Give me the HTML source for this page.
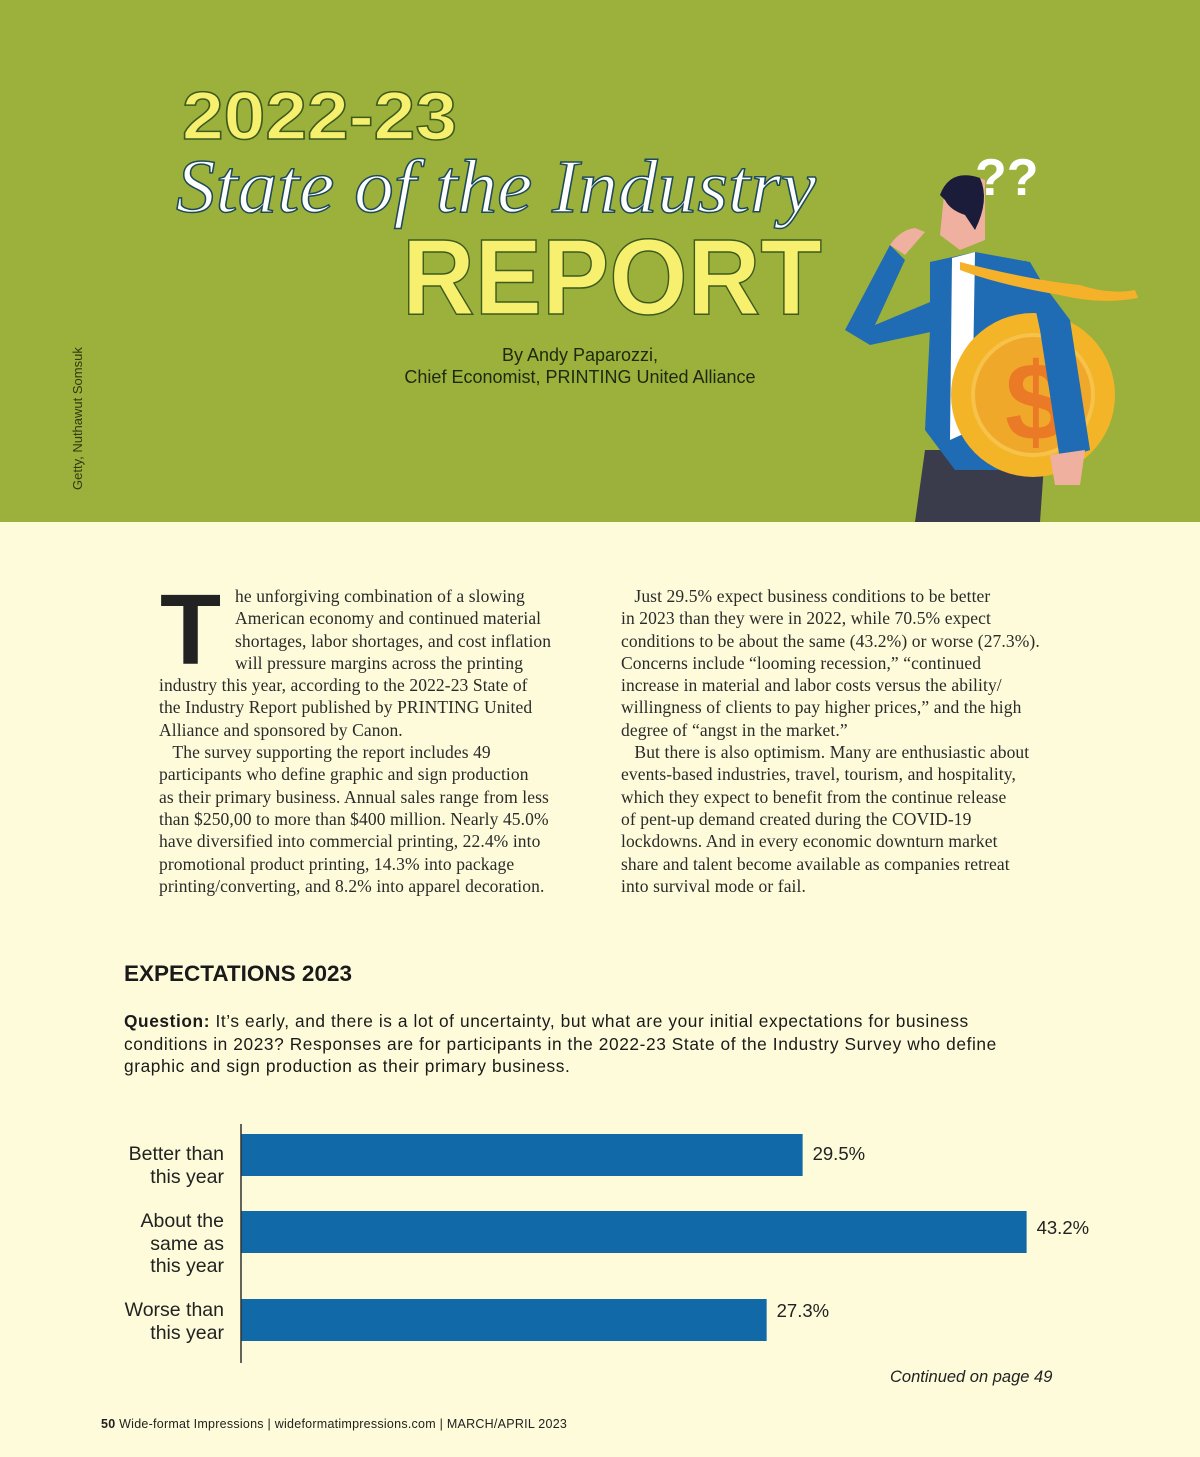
<!DOCTYPE html>
<html><head><meta charset="utf-8"><style>
*{margin:0;padding:0;box-sizing:border-box}
body{width:1200px;height:1457px;background:#fdfbd9;position:relative;overflow:hidden;font-family:"Liberation Sans",sans-serif;color:#222}
.abs{position:absolute}
#hero{left:0;top:0;width:1200px;height:522px;background:#9cb03c}
.col{font-family:"Liberation Serif",serif;font-size:17.5px;line-height:22.3px;letter-spacing:0.1px;color:#2a2a2a;white-space:nowrap}
.lbl{font-size:19.5px;line-height:22.5px;text-align:right;color:#222;width:130px}
.val{font-size:18.5px;color:#222}
</style></head><body>
<div id="hero" class="abs">
<svg width="1200" height="522" class="abs" style="left:0;top:0">
 <text x="182" y="139" font-family="Liberation Sans" font-weight="bold" font-size="68" fill="#f7f06e" stroke="#3d5a1f" stroke-width="1.5" textLength="275" lengthAdjust="spacingAndGlyphs">2022-23</text>
 <text x="176" y="212" font-family="Liberation Serif" font-style="italic" font-size="76" fill="#ffffff" stroke="#1d4a5a" stroke-width="1.5" textLength="640" lengthAdjust="spacingAndGlyphs">State of the Industry</text>
 <text x="402" y="314" font-family="Liberation Sans" font-weight="bold" font-size="108" fill="#f7f06e" stroke="#3d5a1f" stroke-width="1.5" textLength="420" lengthAdjust="spacingAndGlyphs">REPORT</text>
 <text x="82" y="490" transform="rotate(-90 82 490)" font-size="13" fill="#2e3a10">Getty,  Nuthawut Somsuk</text>
 <g>
  <text x="975" y="195" font-size="52" font-weight="bold" fill="#fff">??</text>
  <path d="M915 522 L925 450 L1045 450 L1040 522 Z" fill="#3a3c4c"/>
  <path d="M930 262 L975 252 L1030 262 L1070 330 L1088 450 L1060 465 L1040 470 L955 470 L925 430 L930 330 Z" fill="#1f6cb4"/>
  <path d="M845 330 L890 245 L905 260 L875 325 L935 300 L940 330 L870 345 Z" fill="#1f6cb4"/>
  <path d="M952 258 L975 252 L972 430 L950 440 Z" fill="#fff"/>
  <circle cx="1033" cy="395" r="82" fill="#f3b428"/>
  <circle cx="1033" cy="395" r="60" fill="#f0a82a" stroke="#f6c24a" stroke-width="4"/>
  <text x="1005" y="440" font-size="110" font-weight="bold" fill="#ea7a26">$</text>
  <path d="M1025 260 L1070 320 L1090 450 L1060 460 L1040 330 Z" fill="#1f6cb4"/>
  <path d="M1050 455 L1085 450 L1080 485 L1055 485 Z" fill="#f0b0a0"/>
  <path d="M960 262 Q1030 280 1080 285 Q1110 295 1135 290 L1138 298 Q1100 305 1060 295 Q1000 285 960 270 Z" fill="#f5b12a"/>
  <path d="M945 185 Q960 170 985 180 L985 240 L960 250 L940 235 Z" fill="#f0b0a0"/>
  <path d="M940 195 Q950 168 980 178 Q990 200 975 230 L965 215 Q950 210 945 200 Z" fill="#1a1c3a"/>
  <path d="M890 245 Q900 230 915 228 L925 232 L905 255 Z" fill="#f0b0a0"/>
 </g>
</svg>
<div class="abs" style="left:370px;top:345px;width:420px;text-align:center;font-size:18px;line-height:21.5px;color:#1e2a10">By Andy Paparozzi,<br>Chief Economist, PRINTING United Alliance</div>
</div>

<div class="abs" style="left:160px;top:588px;font-family:'Liberation Sans';font-weight:bold;font-size:100px;line-height:84px;color:#222">T</div>
<div class="abs col" style="left:159px;top:585px">
<div style="padding-left:76px">he unforgiving combination of a slowing</div>
<div style="padding-left:76px">American economy and continued material</div>
<div style="padding-left:76px">shortages, labor shortages, and cost inflation</div>
<div style="padding-left:76px">will pressure margins across the printing</div>
<div>industry this year, according to the 2022-23 State of</div>
<div>the Industry Report published by PRINTING United</div>
<div>Alliance and sponsored by Canon.</div>
<div>&nbsp;&nbsp;&nbsp;The survey supporting the report includes 49</div>
<div>participants who define graphic and sign production</div>
<div>as their primary business. Annual sales range from less</div>
<div>than $250,00 to more than $400 million. Nearly 45.0%</div>
<div>have diversified into commercial printing, 22.4% into</div>
<div>promotional product printing, 14.3% into package</div>
<div>printing/converting, and 8.2% into apparel decoration.</div>
</div>
<div class="abs col" style="left:621px;top:585px">
<div>&nbsp;&nbsp;&nbsp;Just 29.5% expect business conditions to be better</div>
<div>in 2023 than they were in 2022, while 70.5% expect</div>
<div>conditions to be about the same (43.2%) or worse (27.3%).</div>
<div>Concerns include “looming recession,” “continued</div>
<div>increase in material and labor costs versus the ability/</div>
<div>willingness of clients to pay higher prices,” and the high</div>
<div>degree of “angst in the market.”</div>
<div>&nbsp;&nbsp;&nbsp;But there is also optimism. Many are enthusiastic about</div>
<div>events-based industries, travel, tourism, and hospitality,</div>
<div>which they expect to benefit from the continue release</div>
<div>of pent-up demand created during the COVID-19</div>
<div>lockdowns. And in every economic downturn market</div>
<div>share and talent become available as companies retreat</div>
<div>into survival mode or fail.</div>
</div>

<div class="abs" style="left:124px;top:961px;font-size:22.5px;font-weight:bold;letter-spacing:0px;color:#1a1a1a">EXPECTATIONS 2023</div>
<div class="abs" style="left:124px;top:1010px;white-space:nowrap;font-size:17.3px;line-height:22.5px;letter-spacing:0.6px;color:#1a1a1a"><b>Question:</b> It’s early, and there is a lot of uncertainty, but what are your initial expectations for business<br>conditions in 2023? Responses are for participants in the 2022-23 State of the Industry Survey who define<br>graphic and sign production as their primary business.</div>

<svg id="chart" class="abs" style="left:0;top:0" width="1200" height="1457"></svg>
<div id="labels"></div>

<div class="abs" style="left:890px;top:1368px;font-size:16.5px;font-style:italic;color:#222">Continued on page 49</div>
<div class="abs" style="left:101px;top:1417px;font-size:12.5px;letter-spacing:0.25px;color:#222"><b>50</b> Wide-format Impressions | wideformatimpressions.com | MARCH/APRIL 2023</div>

<script>
const categories = ["Better than this year", "About the same as this year", "Worse than this year"];
const labelLines = [["Better than","this year"],["About the","same as","this year"],["Worse than","this year"]];
const values = [29.5, 43.2, 27.3];
const valueLabels = ["29.5%", "43.2%", "27.3%"];

const ns = "http://www.w3.org/2000/svg";
const svg = document.getElementById('chart');
const axisX = 241;
function xLen(v){ return (v + 4.85) * 16.35; }
const barTops = [1134, 1211, 1299];
const barH = 42;
const labelTops = [1143, 1210, 1299];
const labelsDiv = document.getElementById('labels');
values.forEach((v,i)=>{
  const r = document.createElementNS(ns,'rect');
  
  
  r.setAttribute('x', axisX);
  r.setAttribute('y', barTops[i]);
  r.setAttribute('width', xLen(v));
  r.setAttribute('height', barH);
  r.setAttribute('fill', '#1269a8');
  svg.appendChild(r);
  const t = document.createElement('div');
  
  
  t.className = 'abs val';
  t.style.left = (axisX + xLen(v) + 10) + 'px';
  t.style.top = (barTops[i] + 9 - (i===0?0:i===1?3:8)) + 'px';
  t.textContent = valueLabels[i];
  labelsDiv.appendChild(t);
  const c = document.createElement('div');
  
  
  c.className = 'abs lbl';
  c.style.left = '94px';
  c.style.top = labelTops[i] + 'px';
  c.innerHTML = labelLines[i].join('<br>');
  c.title = categories[i];
  labelsDiv.appendChild(c);
});
const ax = document.createElementNS(ns,'line');


ax.setAttribute('x1', axisX); ax.setAttribute('x2', axisX);
ax.setAttribute('y1', 1124); ax.setAttribute('y2', 1363);
ax.setAttribute('stroke', '#333'); ax.setAttribute('stroke-width', '1.5');
svg.appendChild(ax);
</script>
</body></html>
